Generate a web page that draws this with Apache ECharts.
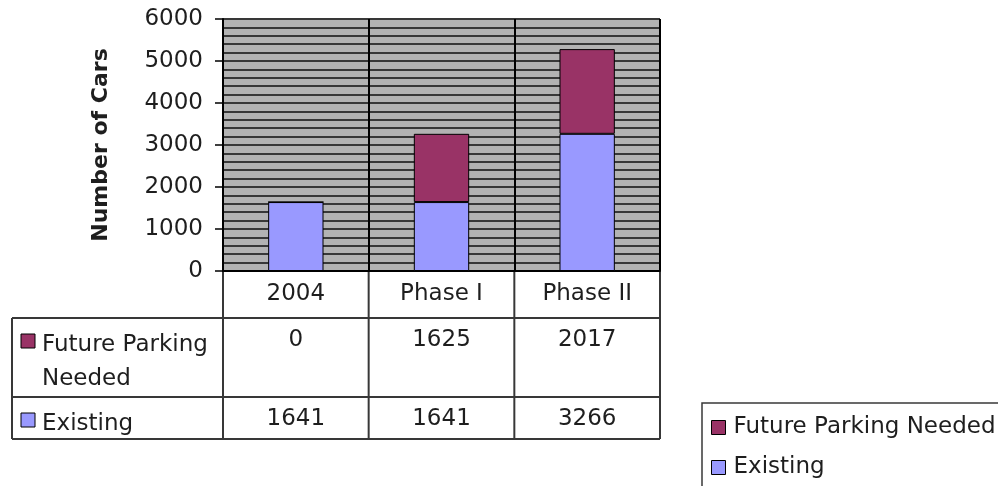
<!DOCTYPE html>
<html>
<head>
<meta charset="utf-8">
<script src="https://cdn.jsdelivr.net/npm/echarts@6/dist/echarts.min.js"></script>
<style>
  html, body { margin: 0; padding: 0; background: #ffffff; }
  #chart { width: 998px; height: 486px; }
</style>
</head>
<body>
<div id="chart"></div>
<script>
// Parking demand by stage
const categories = ['2004', 'Phase I', 'Phase II'];
const existing = [1641, 1641, 3266];
const futureNeeded = [0, 1625, 2017];
const seriesNames = ['Future Parking Needed', 'Existing'];
const tableRowLabels = ['Future Parking\nNeeded', 'Existing'];
const yTicks = [0, 1000, 2000, 3000, 4000, 5000, 6000];

const colorExisting = '#9999ff';
const colorFuture = '#993366';
const lineColor = '#383838';
const textColor = '#1e1e1e';
const font = 'DejaVu Sans';
const fontSize = 23;

// plot box
const gridLeft = 223, gridRight = 660, gridTop = 19, axisY = 271;
const W = 998, H = 486;

const chart = echarts.init(document.getElementById('chart'), null, { renderer: 'canvas' });

const option = {
  animation: false,
  backgroundColor: '#ffffff',
  textStyle: { fontFamily: font },
  grid: {
    left: gridLeft, right: W - gridRight, top: gridTop, bottom: H - axisY,
    show: true, backgroundColor: '#b3b3b3', borderWidth: 0
  },
  legend: {
    data: seriesNames,
    orient: 'vertical',
    left: 702, top: 403,
    padding: [11, 0, 0, 9],
    itemGap: 13,
    itemWidth: 14, itemHeight: 14,
    icon: 'rect',
    itemStyle: { borderColor: '#000', borderWidth: 1 },
    borderWidth: 0,
    textStyle: { fontFamily: font, fontSize: fontSize, color: textColor, lineHeight: 27, padding: [0, 0, 0, 3] }
  },
  xAxis: {
    type: 'category',
    data: categories,
    boundaryGap: true,
    axisLine: { show: true, lineStyle: { color: '#000', width: 2 } },
    axisTick: { show: false },
    axisLabel: { fontFamily: font, fontSize: fontSize, color: textColor, margin: 12 },
    splitLine: { show: true, lineStyle: { color: '#000', width: 2 } }
  },
  yAxis: {
    type: 'value',
    min: yTicks[0], max: yTicks[yTicks.length - 1], interval: yTicks[1] - yTicks[0],
    name: 'Number of Cars',
    nameLocation: 'middle',
    nameGap: 111,
    nameTextStyle: { fontFamily: font, fontSize: 22, fontWeight: 'bold', color: textColor },
    axisLine: { show: true, lineStyle: { color: '#000', width: 2 } },
    axisTick: { show: true, length: 8, lineStyle: { color: '#000', width: 1.5 } },
    axisLabel: { fontFamily: font, fontSize: fontSize, color: textColor, margin: 20, formatter: v => String(v) },
    splitLine: { show: true, lineStyle: { color: lineColor, width: 2 } },
    minorTick: { show: false, splitNumber: 5 },
    minorSplitLine: { show: true, lineStyle: { color: lineColor, width: 2 } }
  },
  series: [
    {
      name: seriesNames[1], type: 'bar', stack: 'cars', data: existing, barWidth: '38%',
      itemStyle: { color: colorExisting, borderColor: '#000', borderWidth: 1 }
    },
    {
      name: seriesNames[0], type: 'bar', stack: 'cars', data: futureNeeded, barWidth: '38%',
      itemStyle: { color: colorFuture, borderColor: '#000', borderWidth: 1 }
    }
  ]
};
chart.setOption(option);

// data table under the plot, plus the legend frame
const rowTops = [318, 397, 439];
const tableLeft = 12;
const elements = [];
const line = (x1, y1, x2, y2) => elements.push({
  type: 'line', shape: { x1, y1, x2, y2 },
  style: { stroke: lineColor, lineWidth: 2 }, silent: true
});
const catW = (gridRight - gridLeft) / categories.length;
for (let i = 0; i <= categories.length; i++) {
  const x = gridLeft + i * catW;
  line(x, axisY, x, rowTops[2]);
}
rowTops.forEach(y => line(tableLeft, y, gridRight, y));
line(tableLeft, rowTops[0], tableLeft, rowTops[2]);

// legend frame runs past the right and bottom edges
elements.push({
  type: 'rect', shape: { x: 702, y: 403, width: 320, height: 120 },
  style: { fill: null, stroke: lineColor, lineWidth: 1.5 }, silent: true, z: -1
});

const rows = [
  { label: tableRowLabels[0], color: colorFuture, values: futureNeeded, top: rowTops[0] },
  { label: tableRowLabels[1], color: colorExisting, values: existing, top: rowTops[1] }
];
rows.forEach(r => {
  elements.push({
    type: 'rect', shape: { x: 21, y: r.top + 16, width: 14, height: 14 },
    style: { fill: r.color, stroke: '#000', lineWidth: 1 }, silent: true
  });
  elements.push({
    type: 'text', x: 42, y: r.top + 10,
    style: { text: r.label, font: fontSize + 'px "' + font + '"', fill: textColor, lineHeight: 34, verticalAlign: 'top' },
    silent: true
  });
  r.values.forEach((v, i) => {
    const cx = chart.convertToPixel({ xAxisIndex: 0 }, categories[i]);
    elements.push({
      type: 'text', x: cx, y: r.top + 11,
      style: { text: String(v), font: fontSize + 'px "' + font + '"', fill: textColor, align: 'center', verticalAlign: 'top' },
      silent: true
    });
  });
});
chart.setOption({ graphic: { elements } });
</script>
</body>
</html>
